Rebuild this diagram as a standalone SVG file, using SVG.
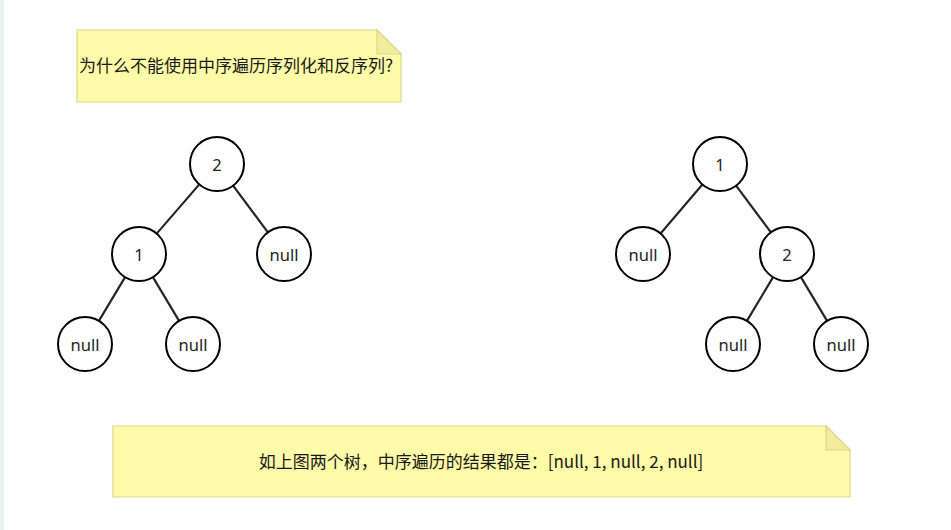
<svg xmlns="http://www.w3.org/2000/svg" width="951" height="530" viewBox="0 0 951 530">
<style>
.note{fill:#FFFBA8;stroke:#D9D78C;stroke-width:1.2}
.fold{fill:#F2EC9E;stroke:#D9D78C;stroke-width:1.2}
.nt{font-family:"Noto Sans CJK SC","Noto Sans",sans-serif;font-size:17px;fill:#1a1a1a}
.node circle{fill:#ffffff;stroke:#000000;stroke-width:2}
.node text{font-family:"Noto Sans","Open Sans",sans-serif;font-size:16.5px;fill:#222222;text-anchor:middle;dominant-baseline:central}
.edge{stroke:#262626;stroke-width:2.2;fill:none}
</style>
<rect x="0" y="0" width="951" height="530" fill="#ffffff"/>
<rect x="0" y="0" width="4" height="530" fill="#eceef1"/>
<g id="note1">
<path class="note" d="M77,30 H377 L401,54 V102 H77 Z"/>
<path class="fold" d="M377,30 V54 H401 Z"/>
<text class="nt" x="79" y="72">为什么不能使用中序遍历序列化和反序列?</text>
</g>
<g id="note2">
<path class="note" d="M113,426 H826 L850,450 V497 H113 Z"/>
<path class="fold" d="M826,426 V450 H850 Z"/>
<text class="nt" x="481" y="468" text-anchor="middle">如上图两个树，中序遍历的结果都是：[null, 1, null, 2, null]</text>
</g>
<g id="connectors">
<line class="edge" x1="199.3" y1="184.4" x2="156.7" y2="233.6"/>
<line class="edge" x1="233.1" y1="185.7" x2="267.9" y2="232.3"/>
<line class="edge" x1="125.1" y1="277.1" x2="98.9" y2="320.9"/>
<line class="edge" x1="152.9" y1="277.1" x2="179.1" y2="320.9"/>
<line class="edge" x1="702.4" y1="184.5" x2="660.6" y2="233.5"/>
<line class="edge" x1="736.1" y1="185.7" x2="770.9" y2="232.3"/>
<line class="edge" x1="773.1" y1="277.1" x2="746.9" y2="320.9"/>
<line class="edge" x1="800.9" y1="277.1" x2="827.1" y2="320.9"/>
</g>
<g id="t1-root" class="node"><circle cx="217" cy="164" r="27"/><text x="217" y="164">2</text></g>
<g id="t1-n1" class="node"><circle cx="139" cy="254" r="27"/><text x="139" y="254">1</text></g>
<g id="t1-null-r" class="node"><circle cx="284" cy="254" r="27"/><text x="284" y="254">null</text></g>
<g id="t1-null-ll" class="node"><circle cx="85" cy="344" r="27"/><text x="85" y="344">null</text></g>
<g id="t1-null-lr" class="node"><circle cx="193" cy="344" r="27"/><text x="193" y="344">null</text></g>
<g id="t2-root" class="node"><circle cx="720" cy="164" r="27"/><text x="720" y="164">1</text></g>
<g id="t2-null-l" class="node"><circle cx="643" cy="254" r="27"/><text x="643" y="254">null</text></g>
<g id="t2-n2" class="node"><circle cx="787" cy="254" r="27"/><text x="787" y="254">2</text></g>
<g id="t2-null-rl" class="node"><circle cx="733" cy="344" r="27"/><text x="733" y="344">null</text></g>
<g id="t2-null-rr" class="node"><circle cx="841" cy="344" r="27"/><text x="841" y="344">null</text></g>
</svg>
